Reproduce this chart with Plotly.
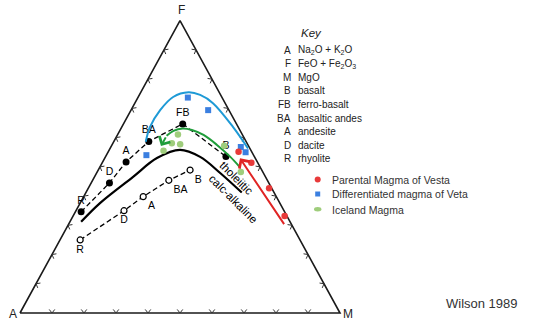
import math
import plotly.graph_objects as go

# ---------------- data (compositions in % : A = Na2O+K2O, F = FeO+Fe2O3, M = MgO) -------------
tho_labels = ["R", "D", "A", "BA", "FB", "B"]
tho_A = [63.6, 49.8, 41.0, 30.4, 16.8, 8.9]
tho_F = [34.6, 44.5, 51.7, 58.7, 64.7, 53.5]
tho_M = [1.8, 5.7, 7.3, 10.9, 18.5, 37.6]

ca_labels = ["R", "D", "A", "BA", "B"]
ca_A = [68.7, 50.0, 41.6, 30.8, 22.4]
ca_F = [25.0, 35.0, 39.8, 45.4, 48.9]
ca_M = [6.3, 15.0, 18.6, 23.8, 28.7]

bnd_A = [65.3, 56.2, 41.5, 30.7, 22.1, 17.0, 13.5, 10.1]
bnd_F = [31.2, 37.6, 46.5, 53.0, 55.8, 53.4, 47.9, 41.2]
bnd_M = [3.5, 6.2, 12.0, 16.3, 22.1, 29.6, 38.6, 48.7]

vesta_par_A = [4.1, 2.0, 0.8, 0.7]
vesta_par_F = [55.2, 51.4, 42.7, 33.2]
vesta_par_M = [40.7, 46.6, 56.5, 66.1]

vesta_dif_A = [10.7, 6.5, 33.5, 2.6, 2.0]
vesta_dif_F = [73.7, 69.4, 54.0, 56.8, 55.0]
vesta_dif_M = [15.6, 24.1, 12.5, 40.6, 43.0]

ice_A = [20.1, 23.5, 21.1, 27.4, 7.6, 6.9]
ice_F = [61.1, 58.1, 57.7, 55.5, 57.2, 48.2]
ice_M = [18.8, 18.4, 21.2, 17.1, 35.2, 44.9]

blue_A = [0.6, 1.6, 3.8, 6.4, 9.6, 15.2, 21.5, 27.6, 31.4]
blue_F = [56.3, 63.6, 71.8, 74.6, 75.5, 73.9, 69.4, 63.6, 58.6]
blue_M = [43.1, 34.8, 24.4, 19.0, 14.9, 10.9, 9.1, 8.8, 10.0]
blue_tip = (32.8, 56.9, 10.3)

green_A = [6.4, 7.6, 9.7, 12.2, 15.0, 17.6, 20.9, 23.9]
green_F = [50.1, 53.5, 57.5, 60.9, 62.6, 63.1, 62.3, 60.6]
green_M = [43.5, 38.9, 32.8, 26.9, 22.4, 19.3, 16.8, 15.5]
green_tip = (27.4, 57.1, 15.5)

red_tail = (2.2, 29.9, 67.9)
red_tip = (4.8, 52.9, 42.3)

tick_vals = [10, 20, 30, 40, 50, 60, 70, 80, 90]

key_letters = ["A", "F", "M", "B", "FB", "BA", "A", "D", "R"]
key_texts = ["Na<sub>2</sub>O + K<sub>2</sub>O", "FeO + Fe<sub>2</sub>O<sub>3</sub>", "MgO",
             "basalt", "ferro-basalt", "basaltic andes", "andesite", "dacite", "rhyolite"]

legend_names = ["Parental Magma of Vesta", "Differentiated magma of Veta", "Iceland Magma"]

# ---------------- geometry ----------------
W, H = 545, 320
X0, XS = 20.0, 3.2      # pixel of A corner, pixels per unit along the base
Y0, YS = 313.0, 2.923   # pixel of base line, pixels per F unit
FONT = "Liberation Sans"


def xy(a, f, m):
    t = a + f + m
    f, m = f * 100.0 / t, m * 100.0 / t
    return m + f / 2.0, f


def xys(A, F, M):
    pts = [xy(a, f, m) for a, f, m in zip(A, F, M)]
    return [p[0] for p in pts], [p[1] for p in pts]


def to_px(x, y):
    return X0 + XS * x, Y0 - YS * y


def from_px(px, py):
    return (px - X0) / XS, (Y0 - py) / YS


def pxp(x):
    return x / W


def pyp(y):
    return 1 - y / H


def label(text, px, py, size, color="#222", xanchor="center", angle=0):
    return dict(x=pxp(px), y=pyp(py), xref="paper", yref="paper", text=text, showarrow=False,
                xanchor=xanchor, yanchor="middle", textangle=angle,
                font=dict(size=size, color=color, family=FONT))


fig = go.Figure()

# triangle outline
tx, ty = xys([100, 0, 0, 100], [0, 0, 100, 0], [0, 100, 0, 0])
fig.add_trace(go.Scatter(x=tx, y=ty, mode="lines", line=dict(color="#1a1a1a", width=1.6),
                         hoverinfo="skip", showlegend=False))

# chevron ticks along the edges
cA, cM, cF = to_px(*xy(100, 0, 0)), to_px(*xy(0, 0, 100)), to_px(*xy(0, 100, 0))
cx, cy = (cA[0] + cM[0] + cF[0]) / 3, (cA[1] + cM[1] + cF[1]) / 3
edges = []
for v in tick_vals:
    edges.append(xy(100 - v, 0, v))       # base A-M
    edges.append(xy(100 - v, v, 0))       # left A-F
    edges.append(xy(0, v, 100 - v))       # right F-M
chx, chy = [], []
L, ang = 4.5, math.radians(38)
for (ex, ey) in edges:
    px, py = to_px(ex, ey)
    if abs(ey) < 1e-9:
        nx, ny = 0.0, -1.0
    elif ex < 50:
        dx, dy = cF[0] - cA[0], cF[1] - cA[1]
        nx, ny = -dy, dx
    else:
        dx, dy = cF[0] - cM[0], cF[1] - cM[1]
        nx, ny = dy, -dx
    n = math.hypot(nx, ny)
    nx, ny = nx / n, ny / n
    if (cx - px) * nx + (cy - py) * ny < 0:
        nx, ny = -nx, -ny
    for s in (1, -1):
        rx = nx * math.cos(s * ang) - ny * math.sin(s * ang)
        ry = nx * math.sin(s * ang) + ny * math.cos(s * ang)
        a1 = from_px(px + L * rx, py + L * ry)
        chx += [ex, a1[0], None]
        chy += [ey, a1[1], None]
fig.add_trace(go.Scatter(x=chx, y=chy, mode="lines", line=dict(color="#333", width=1),
                         hoverinfo="skip", showlegend=False))

# boundary line tholeiitic / calc-alkaline
bx, by = xys(bnd_A, bnd_F, bnd_M)
fig.add_trace(go.Scatter(x=bx, y=by, mode="lines", line=dict(color="black", width=2.2, shape="spline", smoothing=1.0),
                         hoverinfo="skip", showlegend=False))

# tholeiitic trend
x1, y1 = xys(tho_A, tho_F, tho_M)
fig.add_trace(go.Scatter(x=x1, y=y1, mode="lines+markers+text", text=tho_labels,
                         textposition="top center", textfont=dict(size=10.5, color="black", family=FONT),
                         line=dict(color="black", width=1.3, dash="5px,3px"),
                         marker=dict(color="black", size=7), showlegend=False, name="tholeiitic"))

# calc-alkaline trend
x2, y2 = xys(ca_A, ca_F, ca_M)
fig.add_trace(go.Scatter(x=x2, y=y2, mode="lines+markers+text", text=ca_labels,
                         textposition=["bottom center", "bottom center", "bottom right", "bottom right", "bottom right"],
                         textfont=dict(size=10.5, color="black", family=FONT),
                         line=dict(color="black", width=1.3, dash="5px,3px"),
                         marker=dict(color="white", size=6, line=dict(color="black", width=1.2)),
                         showlegend=False, name="calc-alkaline"))

# coloured trend curves
gx, gy = xys(green_A, green_F, green_M)
fig.add_trace(go.Scatter(x=gx, y=gy, mode="lines", line=dict(color="#1f9d3a", width=2, shape="spline"),
                         hoverinfo="skip", showlegend=False))
bx2, by2 = xys(blue_A, blue_F, blue_M)
fig.add_trace(go.Scatter(x=bx2, y=by2, mode="lines", line=dict(color="#1e9ad6", width=2, shape="spline"),
                         hoverinfo="skip", showlegend=False))

# sample points
ix, iy = xys(ice_A, ice_F, ice_M)
fig.add_trace(go.Scatter(x=ix, y=iy, mode="markers", name=legend_names[2],
                         marker=dict(color="#9fcd7c", size=6.5), showlegend=False))
dx_, dy_ = xys(vesta_dif_A, vesta_dif_F, vesta_dif_M)
fig.add_trace(go.Scatter(x=dx_, y=dy_, mode="markers", name=legend_names[1],
                         marker=dict(color="#3b7fe0", size=6, symbol="square"), showlegend=False))
rx_, ry_ = xys(vesta_par_A, vesta_par_F, vesta_par_M)
fig.add_trace(go.Scatter(x=rx_, y=ry_, mode="markers", name=legend_names[0],
                         marker=dict(color="#e83a3a", size=6.5), showlegend=False))

annotations = []


def arrow(tip, tail, color):
    tx_, ty_ = xy(*tip)
    ax_, ay_ = xy(*tail)
    return dict(x=tx_, y=ty_, ax=ax_, ay=ay_, xref="x", yref="y", axref="x", ayref="y",
                showarrow=True, arrowhead=4, arrowsize=1.2, arrowwidth=2, arrowcolor=color, text="")


annotations.append(arrow(blue_tip, (blue_A[-1], blue_F[-1], blue_M[-1]), "#1e9ad6"))
annotations.append(arrow(green_tip, (green_A[-1], green_F[-1], green_M[-1]), "#1f9d3a"))
annotations.append(arrow(red_tip, red_tail, "#e02424"))

# trend names along the curve
annotations.append(label("tholeiitic", 236.5, 177.5, 11.5, "black", angle=45))
annotations.append(label("calc-alkaline", 233.5, 198.5, 11.5, "black", angle=45))

# vertex labels
annotations.append(label("F", 181.7, 10, 12))
annotations.append(label("A", 13, 314, 12))
annotations.append(label("M", 348, 314, 12))

# key
annotations.append(label("<i>Key</i>", 311, 33, 11.5))
for i, (l, t) in enumerate(zip(key_letters, key_texts)):
    yy = 50 + i * 13.6
    annotations.append(label(l, 293.5, yy, 10, xanchor="right"))
    annotations.append(label(t, 296, yy, 10, xanchor="left"))

# custom legend
leg_y = [179.5, 194, 210]
for name, yy in zip(legend_names, leg_y):
    annotations.append(label(name, 330, yy, 10.5, "#333", xanchor="left"))

annotations.append(label("Wilson 1989", 482, 303, 13, "#333"))

shapes = [
    dict(type="circle", xref="paper", yref="paper", x0=pxp(314.7), x1=pxp(320.7), y0=pyp(182.5), y1=pyp(176.5),
         fillcolor="#e83a3a", line=dict(width=0)),
    dict(type="rect", xref="paper", yref="paper", x0=pxp(315.2), x1=pxp(320.2), y0=pyp(196.5), y1=pyp(191.5),
         fillcolor="#3b7fe0", line=dict(width=0)),
    dict(type="circle", xref="paper", yref="paper", x0=pxp(314), x1=pxp(321.4), y0=pyp(211.5), y1=pyp(207),
         fillcolor="#9fcd7c", line=dict(width=0)),
]

fig.update_layout(
    width=W, height=H, margin=dict(l=0, r=0, t=0, b=0),
    paper_bgcolor="white", plot_bgcolor="white",
    xaxis=dict(range=[(0 - X0) / XS, (W - X0) / XS], visible=False, fixedrange=True),
    yaxis=dict(range=[(Y0 - H) / YS, Y0 / YS], visible=False, fixedrange=True),
    annotations=annotations, shapes=shapes, showlegend=False,
    font=dict(family=FONT),
)

fig.write_html("out.html", config={"displayModeBar": False},
               post_script="document.body.style.margin='0px';")
